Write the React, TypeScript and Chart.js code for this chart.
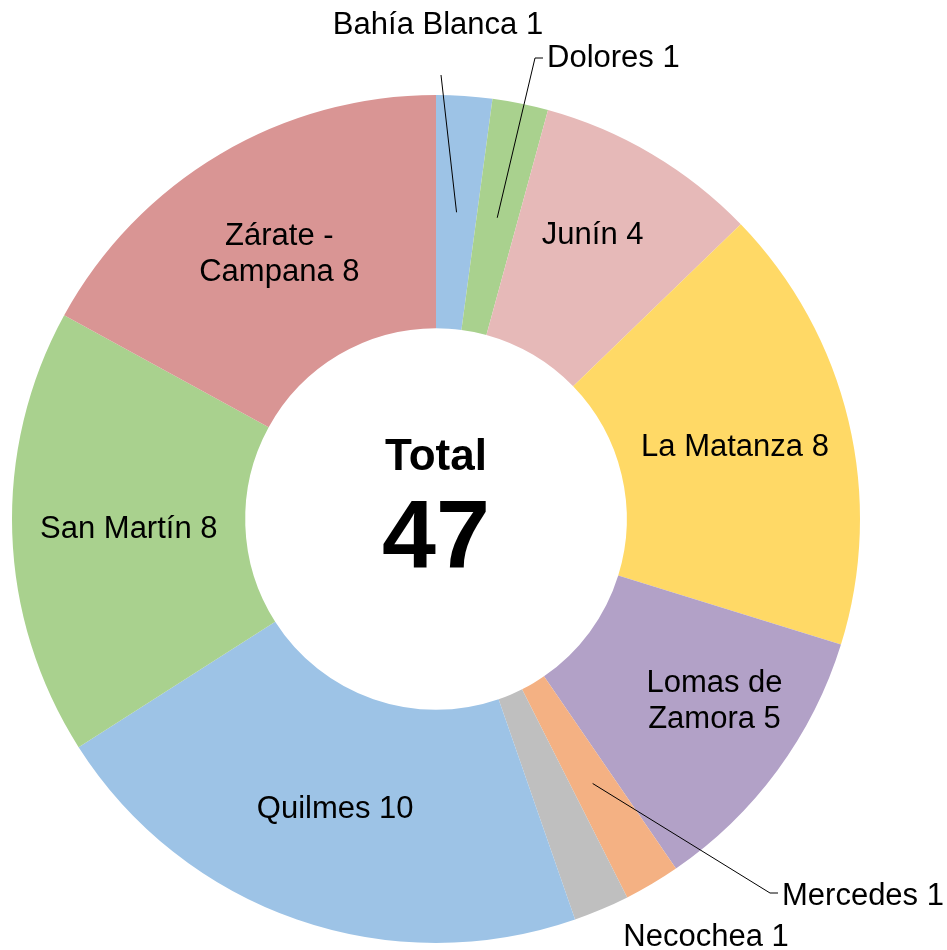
import React, { useEffect, useRef } from "react";
import { Chart, registerables } from "chart.js";

Chart.register(...registerables);

// ---- data ----
const categories: string[] = [
  "Bahía Blanca",
  "Dolores",
  "Junín",
  "La Matanza",
  "Lomas de Zamora",
  "Mercedes",
  "Necochea",
  "Quilmes",
  "San Martín",
  "Zárate - Campana",
];
const values: number[] = [1, 1, 4, 8, 5, 1, 1, 10, 8, 8];
const colors: string[] = [
  "#9DC3E6",
  "#A9D18E",
  "#E6B9B8",
  "#FFD966",
  "#B2A1C7",
  "#F4B183",
  "#BFBFBF",
  "#9DC3E6",
  "#A9D18E",
  "#D99594",
];
// how each label's text is broken into lines (value appended to last line)
const labelLines: string[][] = [
  ["Bahía Blanca"],
  ["Dolores"],
  ["Junín"],
  ["La Matanza"],
  ["Lomas de", "Zamora"],
  ["Mercedes"],
  ["Necochea"],
  ["Quilmes"],
  ["San Martín"],
  ["Zárate -", "Campana"],
];
const centerTitle = "Total";

const FONT = '"Liberation Sans", Arial, Helvetica, sans-serif';

type Place =
  | { kind: "in"; dx: number; dy: number }
  | {
      kind: "out";
      tx: number;
      ty: number;
      align: CanvasTextAlign;
      leader: [number, number][];
    };

// label placement relative to the doughnut centre (px)
const placements: Place[] = [
  { kind: "out", tx: 2, ty: -494, align: "center", leader: [[5, -444]] },
  { kind: "out", tx: 111, ty: -461, align: "left", leader: [[107, -461], [99, -461]] },
  { kind: "in", dx: 0, dy: -19 },
  { kind: "in", dx: 0, dy: 0 },
  { kind: "in", dx: 31, dy: 0 },
  { kind: "out", tx: 346, ty: 377, align: "left", leader: [[342, 374], [334, 374]] },
  { kind: "out", tx: 270, ty: 418.5, align: "center", leader: [] },
  { kind: "in", dx: 0, dy: 0 },
  { kind: "in", dx: 0, dy: 0 },
  { kind: "in", dx: 0, dy: 0 },
];

export default function App() {
  const ref = useRef<HTMLCanvasElement | null>(null);

  useEffect(() => {
    if (!ref.current) return;
    const total = values.reduce((a, b) => a + b, 0);

    const labelPlugin = {
      id: "sliceLabels",
      afterDatasetsDraw(chart: any) {
        const ctx: CanvasRenderingContext2D = chart.ctx;
        const meta = chart.getDatasetMeta(0);
        ctx.save();
        let cx = 0;
        let cy = 0;
        meta.data.forEach((arc: any, i: number) => {
          const p = arc.getProps(
            ["x", "y", "startAngle", "endAngle", "innerRadius", "outerRadius"],
            true
          );
          cx = p.x;
          cy = p.y;
          const mid = (p.startAngle + p.endAngle) / 2;
          const r = (p.innerRadius + p.outerRadius) / 2;
          const mx = p.x + Math.cos(mid) * r;
          const my = p.y + Math.sin(mid) * r;
          const lines = labelLines[i].slice();
          lines[lines.length - 1] = lines[lines.length - 1] + " " + values[i];
          const pl = placements[i];
          ctx.font = `31px ${FONT}`;
          ctx.fillStyle = "#000000";
          ctx.textBaseline = "middle";
          const lh = 36;
          if (pl.kind === "in") {
            ctx.textAlign = "center";
            const x = mx + pl.dx;
            const y0 = my + pl.dy - ((lines.length - 1) * lh) / 2;
            lines.forEach((t, k) => ctx.fillText(t, x, y0 + k * lh));
          } else {
            if (pl.leader.length) {
              ctx.strokeStyle = "#000000";
              ctx.lineWidth = 1;
              ctx.beginPath();
              ctx.moveTo(p.x + pl.leader[0][0], p.y + pl.leader[0][1]);
              for (let k = 1; k < pl.leader.length; k++) {
                ctx.lineTo(p.x + pl.leader[k][0], p.y + pl.leader[k][1]);
              }
              ctx.lineTo(mx, my);
              ctx.stroke();
            }
            ctx.textAlign = pl.align;
            const y0 = p.y + pl.ty - ((lines.length - 1) * lh) / 2;
            lines.forEach((t, k) => ctx.fillText(t, p.x + pl.tx, y0 + k * lh));
          }
        });
        // centre text
        ctx.textAlign = "center";
        ctx.textBaseline = "alphabetic";
        ctx.fillStyle = "#000000";
        ctx.font = `bold 44px ${FONT}`;
        ctx.fillText(centerTitle, cx, cy - 49);
        ctx.font = `bold 97px ${FONT}`;
        ctx.fillText(String(total), cx, cy + 49);
        ctx.restore();
      },
    };

    const chart = new Chart(ref.current, {
      type: "doughnut",
      data: {
        labels: categories,
        datasets: [
          {
            data: values,
            backgroundColor: colors,
            borderWidth: 0,
          },
        ],
      },
      options: {
        responsive: false,
        animation: false,
        cutout: "45%",
        layout: { padding: { left: 12, top: 95, right: 87, bottom: 7 } },
        plugins: {
          legend: { display: false },
          tooltip: { enabled: false },
        },
      },
      plugins: [labelPlugin],
    });
    return () => chart.destroy();
  }, []);

  return (
    <canvas
      ref={ref}
      width={947}
      height={950}
      style={{ position: "absolute", left: 0, top: 0, display: "block" }}
    />
  );
}
